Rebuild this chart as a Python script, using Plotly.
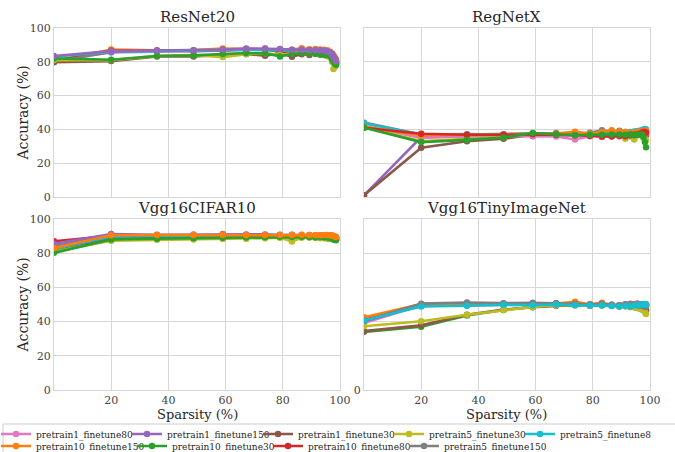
import plotly.graph_objects as go

# Sparsity levels reached by iterative magnitude pruning (20% per round)
sparsity = [0, 20, 36, 48.8, 59.0, 67.2, 73.8, 79.0, 83.2, 86.6, 89.3, 91.4,
            93.1, 94.5, 95.6, 96.5, 97.2, 97.7, 98.2, 98.6]

models = ["ResNet20", "RegNetX", "Vgg16CIFAR10", "Vgg16TinyImageNet"]

series_names = ["pretrain1_finetune80", "pretrain10_finetune150", "pretrain1_finetune150",
                "pretrain10_finetune30", "pretrain1_finetune30", "pretrain10_finetune80",
                "pretrain5_finetune30", "pretrain5_finetune150", "pretrain5_finetune80"]

# ---- ResNet20 accuracy (%) ----
resnet20_p1_f80 = [81.0, 85.5, 86.0, 86.2, 86.5, 87.0, 87.0, 86.5, 86.6, 86.8, 86.5, 86.3, 86.2, 86.0, 85.6, 85.0, 84.0, 83.0, 81.5, 80.0]
resnet20_p10_f150 = [80.5, 87.3, 86.8, 86.9, 87.8, 87.6, 87.8, 87.5, 87.2, 88.0, 87.5, 87.6, 87.3, 87.2, 86.8, 86.0, 85.0, 84.0, 82.5, 81.5]
resnet20_p1_f150 = [83.4, 86.3, 86.7, 86.8, 87.3, 87.9, 87.9, 87.6, 87.2, 87.2, 87.0, 87.0, 86.9, 86.7, 86.2, 85.6, 84.5, 83.0, 81.8, 80.5]
resnet20_p10_f30 = [82.0, 81.2, 83.4, 83.8, 84.6, 85.2, 85.0, 83.2, 84.6, 85.2, 84.9, 84.8, 84.5, 84.2, 84.0, 83.4, 81.6, 80.2, 79.0, 78.2]
resnet20_p1_f30 = [79.8, 80.4, 83.2, 83.2, 84.0, 84.6, 83.6, 85.0, 83.0, 84.5, 84.0, 84.8, 84.2, 84.0, 83.5, 83.0, 81.5, 80.5, 79.5, 79.0]
resnet20_p10_f80 = [80.5, 86.5, 86.5, 86.5, 87.0, 87.0, 87.3, 86.0, 85.5, 86.5, 86.8, 86.5, 86.0, 86.0, 85.5, 85.0, 84.0, 82.5, 81.0, 79.5]
resnet20_p5_f30 = [81.0, 81.0, 83.5, 84.0, 82.8, 84.5, 85.0, 84.2, 85.0, 85.5, 85.2, 84.8, 84.5, 84.0, 83.5, 82.8, 80.0, 75.8, 77.0, 78.0]
resnet20_p5_f150 = [80.0, 85.8, 86.5, 86.3, 86.8, 87.0, 87.5, 87.0, 86.8, 87.2, 86.8, 86.6, 86.5, 86.4, 86.0, 85.5, 84.5, 83.0, 81.0, 79.2]
resnet20_p5_f80 = [83.0, 86.0, 86.3, 86.5, 87.0, 87.3, 87.0, 87.0, 86.5, 86.8, 86.6, 86.4, 86.3, 86.0, 85.8, 85.0, 84.0, 82.5, 81.0, 80.0]

# ---- RegNetX accuracy (%) ----
regnetx_p1_f80 = [42.0, 35.0, 36.0, 36.0, 36.2, 35.8, 34.0, 36.0, 35.5, 36.0, 35.8, 35.5, 36.0, 36.2, 36.5, 36.8, 37.0, 37.2, 37.5, 37.8]
regnetx_p10_f150 = [41.5, 36.5, 36.8, 36.8, 37.5, 37.5, 38.6, 37.5, 38.5, 39.5, 38.8, 38.5, 38.0, 38.2, 38.5, 38.6, 38.8, 39.0, 39.2, 39.0]
regnetx_p1_f150 = [1.0, 35.5, 35.8, 36.0, 36.0, 36.5, 36.5, 37.0, 36.8, 37.2, 37.0, 36.8, 37.0, 37.2, 37.5, 37.8, 38.0, 38.0, 38.2, 38.5]
regnetx_p10_f30 = [41.0, 32.5, 33.8, 35.2, 37.8, 37.0, 36.5, 36.8, 36.8, 37.0, 37.0, 36.8, 37.2, 36.5, 36.8, 37.0, 36.8, 35.5, 32.6, 29.4]
regnetx_p1_f30 = [1.0, 29.2, 33.0, 34.5, 36.8, 37.3, 37.2, 37.0, 37.5, 37.2, 37.0, 37.5, 37.0, 37.2, 37.0, 37.4, 37.2, 37.0, 36.8, 36.5]
regnetx_p10_f80 = [41.0, 37.4, 36.8, 36.8, 37.2, 36.8, 36.5, 36.2, 35.8, 35.8, 36.2, 36.0, 36.5, 36.8, 37.0, 37.5, 38.0, 38.5, 38.5, 38.0]
regnetx_p5_f30 = [41.5, 33.0, 34.5, 35.5, 37.5, 37.0, 37.0, 37.2, 37.5, 37.0, 36.5, 34.5, 36.0, 34.0, 36.5, 37.0, 36.5, 35.0, 34.5, 33.5]
regnetx_p5_f150 = [44.0, 37.0, 37.0, 37.2, 37.5, 37.8, 38.0, 38.0, 39.5, 38.8, 39.2, 38.5, 38.0, 38.5, 38.8, 39.0, 39.0, 39.2, 39.0, 38.8]
regnetx_p5_f80 = [43.5, 37.0, 37.2, 37.0, 37.5, 37.5, 37.8, 37.5, 38.5, 38.0, 38.2, 38.5, 38.5, 38.8, 39.0, 39.2, 39.5, 39.8, 40.2, 40.0]

# ---- Vgg16 on CIFAR10 accuracy (%) ----
cifar_p1_f80 = [85.0, 90.5, 90.5, 90.5, 90.8, 90.6, 90.6, 90.5, 90.6, 90.4, 90.5, 90.4, 90.3, 90.2, 90.2, 90.0, 89.8, 89.6, 89.5, 89.3]
cifar_p10_f150 = [83.0, 90.5, 90.6, 90.6, 90.8, 90.7, 90.6, 90.6, 90.7, 90.8, 90.6, 90.6, 90.5, 90.6, 90.6, 90.5, 90.4, 90.2, 89.8, 89.5]
cifar_p1_f150 = [85.5, 91.2, 90.8, 90.9, 91.2, 91.0, 91.0, 90.8, 90.8, 90.7, 90.6, 90.5, 90.5, 90.4, 90.3, 90.2, 90.0, 89.8, 89.5, 89.2]
cifar_p10_f30 = [80.2, 88.0, 88.5, 88.8, 89.0, 89.2, 89.4, 89.6, 89.5, 89.6, 89.5, 89.4, 89.5, 89.3, 89.2, 89.0, 88.6, 88.2, 87.8, 87.6]
cifar_p1_f30 = [81.0, 88.2, 88.6, 88.8, 89.2, 89.3, 89.5, 89.4, 89.6, 89.5, 89.4, 89.2, 89.0, 89.0, 88.8, 88.6, 88.5, 88.4, 88.2, 88.0]
cifar_p10_f80 = [87.0, 90.2, 90.3, 90.4, 90.5, 90.4, 90.4, 90.3, 90.3, 90.2, 90.2, 90.0, 90.0, 89.9, 89.8, 89.7, 89.5, 89.4, 89.2, 89.0]
cifar_p5_f30 = [81.0, 87.3, 87.8, 88.0, 88.3, 88.5, 88.8, 89.0, 86.9, 89.0, 89.2, 89.0, 88.8, 88.8, 88.6, 88.5, 88.3, 88.2, 88.0, 87.8]
cifar_p5_f150 = [84.0, 90.0, 90.2, 90.3, 90.5, 90.4, 90.4, 90.2, 90.2, 90.1, 90.0, 89.8, 89.6, 89.5, 89.3, 89.2, 89.0, 88.8, 88.6, 88.5]
cifar_p5_f80 = [82.2, 89.0, 89.3, 89.5, 89.8, 89.8, 89.9, 90.0, 90.0, 89.9, 89.8, 89.6, 89.6, 89.5, 89.4, 89.3, 89.0, 88.8, 88.6, 88.4]

# ---- Vgg16 on TinyImageNet accuracy (%) ----
tiny_p1_f80 = [39.2, 49.5, 50.2, 50.0, 50.2, 50.4, 50.6, 50.0, 50.5, 49.8, 49.6, 49.8, 50.2, 50.0, 49.8, 49.6, 49.5, 49.4, 49.5, 49.6]
tiny_p10_f150 = [42.5, 50.2, 50.6, 50.4, 50.6, 50.6, 51.6, 50.2, 51.0, 49.8, 49.6, 49.5, 49.8, 50.0, 49.8, 49.6, 49.4, 49.6, 49.8, 50.0]
tiny_p1_f150 = [40.0, 49.8, 50.2, 50.4, 50.8, 50.6, 50.2, 49.8, 50.0, 49.5, 49.3, 50.2, 50.4, 50.0, 50.5, 50.2, 50.0, 49.8, 50.0, 50.2]
tiny_p10_f30 = [34.0, 37.0, 43.6, 46.8, 48.5, 49.5, 49.6, 49.8, 49.5, 49.2, 49.0, 49.2, 49.0, 48.8, 48.5, 48.2, 48.0, 47.5, 47.2, 47.0]
tiny_p1_f30 = [34.4, 37.8, 44.0, 47.0, 48.4, 49.2, 49.8, 49.6, 49.6, 49.4, 49.0, 49.0, 48.6, 48.4, 48.0, 47.8, 47.5, 47.0, 46.8, 46.5]
tiny_p10_f80 = [41.0, 49.2, 49.6, 49.8, 50.0, 50.2, 50.8, 49.2, 50.5, 49.6, 49.4, 49.8, 49.6, 49.8, 50.4, 50.2, 50.0, 49.8, 49.6, 49.5]
tiny_p5_f30 = [37.3, 40.2, 44.0, 46.8, 48.6, 49.6, 49.8, 49.4, 49.6, 49.3, 49.0, 49.0, 48.8, 48.5, 48.0, 47.5, 47.0, 47.0, 45.6, 44.5]
tiny_p5_f150 = [40.5, 50.5, 51.2, 50.8, 51.0, 50.8, 50.4, 50.0, 50.4, 49.8, 49.5, 49.8, 49.6, 49.8, 49.6, 49.4, 49.2, 49.0, 48.8, 48.5]
tiny_p5_f80 = [40.6, 48.9, 49.3, 49.8, 49.6, 50.0, 49.6, 49.4, 49.6, 49.2, 48.9, 49.2, 49.0, 49.4, 49.6, 49.8, 50.0, 50.0, 50.2, 50.0]

accuracy = {
    "ResNet20": dict(zip(series_names, [resnet20_p1_f80, resnet20_p10_f150, resnet20_p1_f150,
                                        resnet20_p10_f30, resnet20_p1_f30, resnet20_p10_f80,
                                        resnet20_p5_f30, resnet20_p5_f150, resnet20_p5_f80])),
    "RegNetX": dict(zip(series_names, [regnetx_p1_f80, regnetx_p10_f150, regnetx_p1_f150,
                                       regnetx_p10_f30, regnetx_p1_f30, regnetx_p10_f80,
                                       regnetx_p5_f30, regnetx_p5_f150, regnetx_p5_f80])),
    "Vgg16CIFAR10": dict(zip(series_names, [cifar_p1_f80, cifar_p10_f150, cifar_p1_f150,
                                            cifar_p10_f30, cifar_p1_f30, cifar_p10_f80,
                                            cifar_p5_f30, cifar_p5_f150, cifar_p5_f80])),
    "Vgg16TinyImageNet": dict(zip(series_names, [tiny_p1_f80, tiny_p10_f150, tiny_p1_f150,
                                                 tiny_p10_f30, tiny_p1_f30, tiny_p10_f80,
                                                 tiny_p5_f30, tiny_p5_f150, tiny_p5_f80])),
}

colors = {
    "pretrain1_finetune80": "#e377c2",
    "pretrain10_finetune150": "#ff7f0e",
    "pretrain1_finetune150": "#9467bd",
    "pretrain10_finetune30": "#2ca02c",
    "pretrain1_finetune30": "#8c564b",
    "pretrain10_finetune80": "#d62728",
    "pretrain5_finetune30": "#bcbd22",
    "pretrain5_finetune150": "#7f7f7f",
    "pretrain5_finetune80": "#17becf",
}

# stacking order of the lines inside each panel (last drawn on top)
draw_order = {
    "ResNet20": [0, 1, 5, 7, 8, 4, 6, 3, 2],
    "RegNetX": [2, 4, 0, 6, 7, 8, 1, 5, 3],
    "Vgg16CIFAR10": [0, 5, 7, 8, 2, 4, 6, 3, 1],
    "Vgg16TinyImageNet": [0, 5, 2, 1, 3, 4, 6, 7, 8],
}

# legend: two rows of five columns -> (row, column) for each series
legend_slot = {
    "pretrain1_finetune80": (0, 0), "pretrain1_finetune150": (0, 1),
    "pretrain1_finetune30": (0, 2), "pretrain5_finetune30": (0, 3),
    "pretrain5_finetune80": (0, 4),
    "pretrain10_finetune150": (1, 0), "pretrain10_finetune30": (1, 1),
    "pretrain10_finetune80": (1, 2), "pretrain5_finetune150": (1, 3),
}
# text-area width of each legend entry (px); the last entry of the second row
# gets extra room so its label is not clipped
entry_width = {name: (86 if row == 0 else 91) for name, (row, col) in legend_slot.items()}
entry_width["pretrain5_finetune150"] = 120

W, H = 675, 452
MB = 30  # bottom margin holding the legend
PH = H - MB


def px_x(p):
    return p / W


def px_y(p):
    return 1 - p / PH


# panel rectangles in pixels: (left, right, top, bottom)
panels = {
    "ResNet20": (54, 340, 28, 197),
    "RegNetX": (364, 650, 28, 197),
    "Vgg16CIFAR10": (54, 340, 219, 390),
    "Vgg16TinyImageNet": (364, 650, 219, 390),
}

FONT = "DejaVu Serif"
GRID = "#d6d6d6"
TICKFONT = dict(family=FONT, size=11, color="#444444")

fig = go.Figure()
layout = {}
annotations = []

for k, model in enumerate(models, start=1):
    left, right, top, bottom = panels[model]
    xa = "x" if k == 1 else f"x{k}"
    ya = "y" if k == 1 else f"y{k}"
    for idx in draw_order[model]:
        name = series_names[idx]
        row, col = legend_slot[name]
        fig.add_trace(go.Scatter(
            x=sparsity, y=accuracy[model][name], name=name,
            mode="lines+markers",
            line=dict(color=colors[name], width=2.6),
            marker=dict(color=colors[name], size=6.5),
            xaxis=xa, yaxis=ya,
            showlegend=(k == 1),
            legend="legend" if row == 0 else "legend2",
            legendrank=col + 1,
            legendwidth=entry_width[name],
        ))

    bottom_row = k >= 3
    left_col = k in (1, 3)
    xticks = [0, 20, 40, 60, 80, 100]
    yticks = [0, 20, 40, 60, 80, 100]
    xaxis = dict(
        domain=[px_x(left), px_x(right)], anchor=ya, range=[0, 100],
        tickvals=xticks, ticktext=[""] + [str(v) for v in xticks[1:]],
        showticklabels=bottom_row,
        showgrid=True, gridcolor=GRID, gridwidth=1, zeroline=False,
        showline=True, mirror=True, linecolor=GRID, linewidth=1,
        ticks="", tickfont=TICKFONT,
    )
    if left_col:
        yticktext = [str(v) for v in yticks]
    elif k == 4:
        yticktext = ["0"] + [""] * 5
    else:
        yticktext = [""] * 6
    yaxis = dict(
        domain=[px_y(bottom), px_y(top)], anchor=xa, range=[0, 100],
        tickvals=yticks, ticktext=yticktext,
        showticklabels=(k != 2),
        showgrid=True, gridcolor=GRID, gridwidth=1, zeroline=False,
        showline=True, mirror=True, linecolor=GRID, linewidth=1,
        ticks="", tickfont=TICKFONT,
    )
    layout["xaxis" if k == 1 else f"xaxis{k}"] = xaxis
    layout["yaxis" if k == 1 else f"yaxis{k}"] = yaxis

    # panel title
    annotations.append(dict(
        text=model, x=px_x((left + right) / 2), y=px_y(top - 11),
        xref="paper", yref="paper", showarrow=False,
        xanchor="center", yanchor="middle",
        font=dict(family=FONT, size=15, color="#262626"),
    ))
    if left_col:
        annotations.append(dict(
            text="Accuracy (%)", x=px_x(22), y=px_y((top + bottom) / 2),
            xref="paper", yref="paper", showarrow=False, textangle=-90,
            xanchor="center", yanchor="middle",
            font=dict(family=FONT, size=14, color="#262626"),
        ))
    if bottom_row:
        annotations.append(dict(
            text="Sparsity (%)", x=px_x((left + right) / 2), y=px_y(414),
            xref="paper", yref="paper", showarrow=False,
            xanchor="center", yanchor="middle",
            font=dict(family=FONT, size=13, color="#262626"),
        ))

legend_common = dict(
    orientation="h", xanchor="left", yanchor="middle",
    x=px_x(-4), bgcolor="rgba(0,0,0,0)", borderwidth=0,
    font=dict(family=FONT, size=9, color="#262626"),
    itemwidth=30, tracegroupgap=0,
)

fig.update_layout(
    width=W, height=H,
    margin=dict(l=0, r=0, t=0, b=MB, autoexpand=False),
    paper_bgcolor="white", plot_bgcolor="white",
    annotations=annotations,
    legend=dict(legend_common, y=px_y(434)),
    legend2=dict(legend_common, y=px_y(446)),
    shapes=[dict(
        type="rect", xref="paper", yref="paper",
        x0=px_x(3), x1=px_x(W + 10), y0=px_y(H + 10), y1=px_y(424),
        line=dict(color="#cccccc", width=1), fillcolor="rgba(0,0,0,0)",
        layer="above",
    )],
    **layout,
)

fig.write_html("out.html")
